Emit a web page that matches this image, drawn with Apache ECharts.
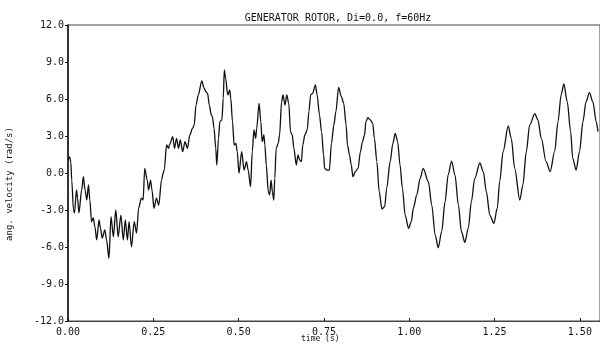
<!DOCTYPE html>
<html>
<head>
<meta charset="utf-8">
<script src="https://cdn.jsdelivr.net/npm/echarts@6/dist/echarts.min.js"></script>
<style>html,body{margin:0;padding:0;background:#fff}#c{width:600px;height:350px}</style>
</head>
<body>
<div id="c"></div>
<script>
var titleText = "GENERATOR ROTOR, Di=0.0, f=60Hz";
var xAxisName = "time (s)";
var yAxisName = "ang. velocity (rad/s)";
var xTicks = [0.00, 0.25, 0.50, 0.75, 1.00, 1.25, 1.50];
var yTicks = [-12, -9, -6, -3, 0, 3, 6, 9, 12];

var timeValues = [
0.000,0.005,0.008,0.011,0.016,0.019,0.025,0.028,0.032,0.040,
0.045,0.050,0.055,0.060,0.064,0.069,0.074,0.079,0.084,0.091,
0.095,0.100,0.108,0.113,0.120,0.126,0.133,0.140,0.147,0.155,
0.162,0.168,0.174,0.179,0.186,0.194,0.201,0.207,0.215,0.220,
0.225,0.232,0.236,0.242,0.246,0.252,0.259,0.266,0.274,0.279,
0.282,0.289,0.295,0.297,0.307,0.312,0.318,0.324,0.329,0.336,
0.343,0.350,0.357,0.365,0.370,0.375,0.382,0.392,0.399,0.404,
0.409,0.414,0.420,0.423,0.428,0.433,0.436,0.441,0.445,0.451,
0.455,0.458,0.462,0.468,0.474,0.477,0.482,0.487,0.492,0.496,
0.501,0.509,0.516,0.523,0.528,0.535,0.540,0.545,0.550,0.553,
0.560,0.565,0.569,0.574,0.577,0.581,0.587,0.591,0.595,0.599,
0.603,0.606,0.610,0.616,0.620,0.626,0.630,0.636,0.641,0.647,
0.652,0.657,0.662,0.669,0.674,0.679,0.684,0.688,0.694,0.701,
0.706,0.711,0.717,0.725,0.730,0.737,0.743,0.749,0.752,0.759,
0.766,0.772,0.779,0.785,0.793,0.801,0.808,0.815,0.819,0.825,
0.830,0.835,0.842,0.850,0.857,0.863,0.869,0.873,0.879,0.886,
0.893,0.898,0.905,0.912,0.920,0.928,0.934,0.944,0.952,0.959,
0.966,0.973,0.980,0.988,0.998,1.006,1.012,1.022,1.032,1.041,
1.056,1.066,1.076,1.085,1.095,1.105,1.114,1.124,1.134,1.144,
1.153,1.163,1.173,1.182,1.192,1.207,1.217,1.226,1.236,1.248,
1.258,1.265,1.275,1.290,1.299,1.309,1.324,1.333,1.343,1.353,
1.368,1.377,1.387,1.401,1.413,1.426,1.436,1.445,1.453,1.463,
1.473,1.479,1.489,1.499,1.509,1.518,1.528,1.538,1.548,1.553
];
var velocityValues = [
1.05,1.30,0.89,-0.57,-3.00,-3.24,-1.38,-2.03,-3.24,-1.38,
-0.30,-1.38,-2.19,-0.97,-2.19,-3.95,-3.65,-4.38,-5.43,-3.81,
-4.46,-5.27,-4.62,-5.43,-6.92,-3.54,-5.17,-3.00,-5.17,-3.41,
-5.43,-3.81,-5.43,-3.95,-5.98,-3.95,-4.87,-2.84,-2.03,-2.19,
0.38,-0.57,-1.38,-0.57,-1.38,-2.86,-2.03,-2.60,-0.57,0.00,
0.24,2.27,2.00,2.27,2.94,2.00,2.81,2.00,2.68,1.73,
2.54,2.00,3.08,3.63,3.89,5.51,6.33,7.46,6.87,6.59,
6.46,5.51,4.70,4.57,3.63,2.00,0.65,2.81,4.16,4.30,
6.06,8.35,7.68,6.33,6.73,6.06,4.16,2.27,2.41,1.73,
-0.02,1.73,0.24,0.92,0.24,-1.11,1.73,3.49,2.81,3.63,
5.65,4.16,2.54,3.08,2.27,0.65,-1.52,-1.78,-0.57,-1.52,
-2.19,-0.43,2.00,2.41,3.08,5.78,6.33,5.51,6.33,5.65,
3.35,3.08,2.00,0.65,1.46,1.05,0.92,2.27,3.08,3.49,
4.97,6.33,6.46,7.14,6.33,4.70,3.35,1.46,0.38,0.24,
0.24,2.41,3.89,4.97,6.95,6.19,5.65,3.89,2.27,1.46,
0.65,-0.30,0.11,0.38,1.73,2.54,3.08,4.16,4.49,4.30,
4.03,2.81,0.92,-1.52,-2.92,-2.73,-1.24,0.92,2.41,3.22,
2.54,0.65,-1.24,-3.41,-4.49,-3.95,-2.86,-1.78,-0.43,0.38,
-0.71,-2.60,-5.03,-6.06,-4.76,-2.33,-0.16,0.97,-0.16,-2.60,
-4.76,-5.62,-4.49,-2.33,-0.43,0.81,0.11,-1.52,-3.41,-4.08,
-2.86,-0.71,1.73,3.81,2.81,0.38,-2.19,-0.97,1.73,3.89,
4.81,4.30,2.81,0.92,0.11,1.73,4.16,6.33,7.22,5.78,
3.35,1.19,0.24,1.73,4.16,5.78,6.51,5.78,4.16,3.35
];

var seriesData = timeValues.map(function (t, i) { return [t, velocityValues[i]]; });

var font = "'DejaVu Sans Mono', monospace";
var chart = echarts.init(document.getElementById('c'), null, {renderer: 'canvas'});
chart.setOption({
  backgroundColor: '#ffffff',
  animation: false,
  title: {
    text: titleText,
    left: 333, top: 8, textAlign: 'center',
    textStyle: {fontFamily: font, fontSize: 10, fontWeight: 'normal', color: '#111'}
  },
  grid: {left: 68, right: -2, top: 25, bottom: 29, show: true, borderColor: '#444', borderWidth: 1},
  xAxis: {
    type: 'value', min: 0, max: 1.559, interval: 0.25,
    axisLine: {show: true, onZero: false, lineStyle: {color: '#444', width: 1}},
    axisTick: {show: true, inside: true, length: 3, lineStyle: {color: '#111'}},
    splitLine: {show: false},
    axisLabel: {
      margin: 6, fontFamily: font, fontSize: 10, color: '#111',
      showMaxLabel: false,
      formatter: function (v) { return v.toFixed(2); }
    }
  },
  yAxis: {
    type: 'value', min: -12, max: 12, interval: 3,
    axisLine: {show: true, lineStyle: {color: '#111', width: 1.5}},
    axisTick: {show: true, inside: false, length: 3, lineStyle: {color: '#111'}},
    splitLine: {show: false},
    axisLabel: {
      margin: 4, fontFamily: font, fontSize: 10, color: '#111',
      formatter: function (v) { return v.toFixed(1); }
    }
  },
  graphic: [
    {type: 'text', left: 301, top: 335,
     style: {text: xAxisName, fontFamily: font, fontSize: 8, fill: '#111'}},
    {type: 'text', x: 10, y: 184, rotation: Math.PI / 2,
     style: {text: yAxisName, fontFamily: font, fontSize: 9, fill: '#111', align: 'center', verticalAlign: 'middle'}}
  ],
  series: [{
    type: 'line',
    data: seriesData,
    showSymbol: false,
    smooth: 0.3,
    smoothMonotone: 'x',
    lineStyle: {color: '#111', width: 1.3},
    clip: true
  }]
});
</script>
</body>
</html>
